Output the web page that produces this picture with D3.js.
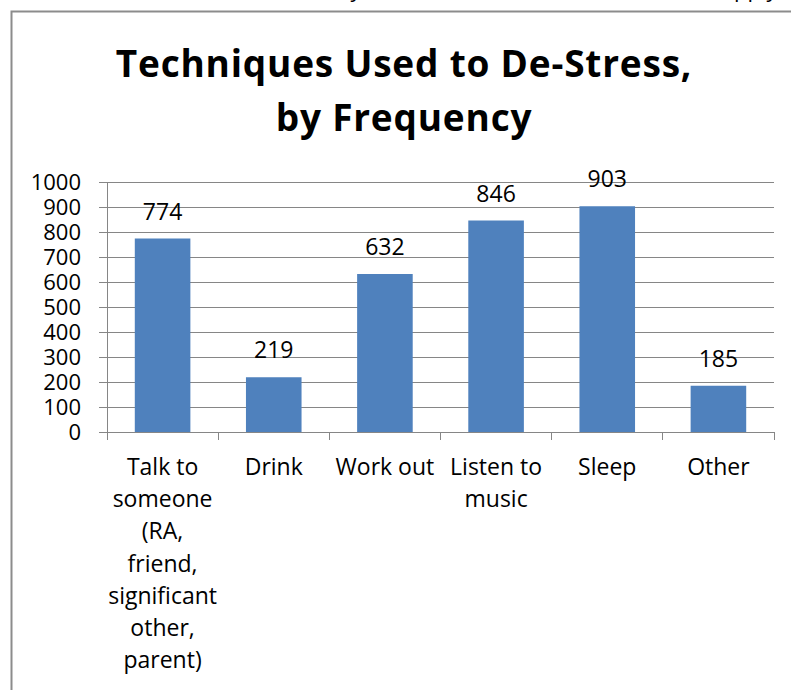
<!DOCTYPE html>
<html>
<head>
<meta charset="utf-8">
<script src="https://cdn.jsdelivr.net/npm/d3@7"></script>
<style>
  html, body { margin: 0; padding: 0; background: #fff; }
  svg { display: block; }
  text { font-family: "Open Sans", "Noto Sans", sans-serif; fill: #000; }
</style>
</head>
<body>
<svg id="chart" width="791" height="690"></svg>
<script>
// ---- data ----
const categories = [
  ["Talk to", "someone", "(RA,", "friend,", "significant", "other,", "parent)"],
  ["Drink"],
  ["Work out"],
  ["Listen to", "music"],
  ["Sleep"],
  ["Other"]
];
const categoryKeys = ["Talk to someone", "Drink", "Work out", "Listen to music", "Sleep", "Other"];
const values = [774, 219, 632, 846, 903, 185];
const yTicks = [0, 100, 200, 300, 400, 500, 600, 700, 800, 900, 1000];
const titleLines = ["Techniques Used to De-Stress,", "by Frequency"];
const questionText = "What methods do you use to de-stress? (Check all that apply)";

// ---- layout ----
const svg = d3.select("#chart");
const plot = { left: 107, right: 774, top: 182, bottom: 432 };
const gridColor = "#868686";
const barColor = "#4F81BD";

// cut-off question line above the chart frame (only descenders visible)
svg.append("text")
  .attr("x", 784).attr("y", -3)
  .attr("text-anchor", "end")
  .style("font-size", "22px")
  .text(questionText);

// chart frame
svg.append("rect")
  .attr("x", 11.5).attr("y", 11.5)
  .attr("width", 800).attr("height", 700)
  .attr("fill", "none")
  .attr("stroke", "#8c8c8c")
  .attr("stroke-width", 2);

// title
const title = svg.append("text")
  .attr("text-anchor", "middle")
  .style("font-size", "37px")
  .style("letter-spacing", "0.8px")
  .style("font-weight", "bold");
title.selectAll("tspan").data(titleLines).join("tspan")
  .attr("x", 404)
  .attr("y", (d, i) => 77 + i * 54)
  .text(d => d);

// scales
const x = d3.scaleBand()
  .domain(categoryKeys)
  .range([plot.left, plot.right])
  .paddingInner(0.5)
  .paddingOuter(0.25);
const y = d3.scaleLinear().domain([0, 1000]).range([plot.bottom, plot.top]);

// y axis with gridlines
const yAxis = d3.axisLeft(y)
  .tickValues(yTicks)
  .tickSize(-(plot.right - plot.left))
  .tickSizeOuter(0)
  .tickFormat(d3.format("d"));
const gy = svg.append("g")
  .attr("transform", `translate(${plot.left},0)`)
  .call(yAxis);
gy.select(".domain").remove();
gy.selectAll(".tick line")
  .attr("x1", -8)
  .attr("stroke", gridColor)
  .attr("stroke-width", 1)
  .attr("shape-rendering", "crispEdges");
gy.selectAll(".tick text")
  .attr("x", -26)
  .attr("dy", "0.36em")
  .style("font-size", "22px")
  .style("font-family", "'Open Sans', sans-serif")
  .attr("fill", "#000");

// vertical axis line
svg.append("line")
  .attr("x1", plot.left).attr("x2", plot.left)
  .attr("y1", plot.top).attr("y2", plot.bottom + 8)
  .attr("stroke", gridColor)
  .attr("shape-rendering", "crispEdges");

// x axis: ticks at band boundaries
const step = x.step();
const boundaries = categoryKeys.map(k => x(k) - step * 0.25).concat([plot.right]);
svg.append("line")
  .attr("x1", plot.left - 8).attr("x2", plot.right)
  .attr("y1", plot.bottom).attr("y2", plot.bottom)
  .attr("stroke", gridColor)
  .attr("shape-rendering", "crispEdges");
svg.append("g").selectAll("line").data(boundaries).join("line")
  .attr("x1", d => d).attr("x2", d => d)
  .attr("y1", plot.bottom).attr("y2", plot.bottom + 8)
  .attr("stroke", gridColor)
  .attr("shape-rendering", "crispEdges");

// bars
svg.append("g").selectAll("rect").data(values).join("rect")
  .attr("x", (d, i) => x(categoryKeys[i]))
  .attr("y", d => y(d))
  .attr("width", x.bandwidth())
  .attr("height", d => y(0) - y(d))
  .attr("fill", barColor);

// data labels
svg.append("g").selectAll("text").data(values).join("text")
  .attr("x", (d, i) => x(categoryKeys[i]) + x.bandwidth() / 2)
  .attr("y", d => y(d) - 19)
  .attr("text-anchor", "middle")
  .style("font-size", "23px")
  .text(d => d);

// category labels (wrapped lines)
const catG = svg.append("g");
categories.forEach((lines, i) => {
  const cx = x(categoryKeys[i]) + x.bandwidth() / 2;
  const t = catG.append("text")
    .attr("text-anchor", "middle")
    .style("font-size", "23px");
  t.selectAll("tspan").data(lines).join("tspan")
    .attr("x", cx)
    .attr("y", (d, j) => plot.bottom + 43 + j * 32.2)
    .text(d => d);
});
</script>
</body>
</html>
